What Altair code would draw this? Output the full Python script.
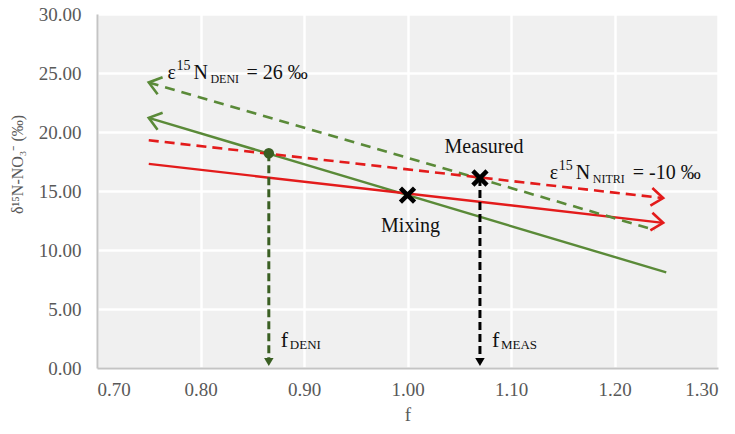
import math
import altair as alt
import pandas as pd

# ---------------- data ----------------
# solid lines through the "Mixing" point
deni_mix_f = [0.75, 1.25]
deni_mix_d15 = [21.2, 8.1]
nitri_mix_f = [0.75, 1.247]
nitri_mix_d15 = [17.3, 12.3]
# dashed lines through the "Measured" point
deni_meas_f = [0.75, 1.239]
deni_meas_d15 = [24.2, 11.7]
nitri_meas_f = [0.75, 1.247]
nitri_meas_d15 = [19.3, 14.4]
# special points
mixing_f = [1.0]
mixing_d15 = [14.65]
measured_f = [1.07]
measured_d15 = [16.1]
fdeni_f = [0.866]
fdeni_d15 = [18.2]
# text
deni_label = ["ε", "15", "N", "DENI", "= 26 ‰"]
deni_label_pos = [0.768, 25.0]
nitri_label = ["ε", "15", "N", "NITRI", "= -10 ‰"]
nitri_label_pos = [1.1375, 16.5]
fdeni_label = ["f", "DENI"]
fmeas_label = ["f", "MEAS"]
x_ticks = [0.7, 0.8, 0.9, 1.0, 1.1, 1.2, 1.3]
y_ticks = [0, 5, 10, 15, 20, 25, 30]

# ---------------- styling ----------------
W, H = 621, 354
KX = W / 0.6
KY = H / 30.0
FONT = "Liberation Serif"
RED = "#e31b1b"
GREEN = "#5a8a38"
DKGREEN = "#3a5f23"
TXT = "#111111"

xs = alt.Scale(domain=[0.7, 1.3], nice=False, zero=False)
ys = alt.Scale(domain=[0, 30], nice=False, zero=True)


def seg_df(f, d):
    return pd.DataFrame({"f": f, "d15": d})


def line(f, d, color, dash=None, width=2.5):
    kw = dict(color=color, strokeWidth=width)
    if dash:
        kw["strokeDash"] = dash
    return alt.Chart(seg_df(f, d)).mark_line(**kw).encode(
        x=alt.X("f:Q", scale=xs), y=alt.Y("d15:Q", scale=ys)
    )


def chevron(f, d, tip_index, color):
    other = 1 - tip_index
    dxp = (f[tip_index] - f[other]) * KX
    dyp = -(d[tip_index] - d[other]) * KY
    ang = math.degrees(math.atan2(dyp, dxp)) % 360
    return alt.Chart(seg_df([f[tip_index]], [d[tip_index]])).mark_point(
        shape="M -1 -0.75 L 0 0 L -1 0.75",
        filled=False, size=560, angle=ang, stroke=color, strokeWidth=2.6,
        opacity=1, strokeJoin="miter", strokeCap="butt",
    ).encode(x=alt.X("f:Q", scale=xs), y=alt.Y("d15:Q", scale=ys))


def vert_arrow(f, d, color):
    df = pd.DataFrame({"f": f, "d15": d, "zero": [0] * len(f)})
    rule = alt.Chart(df).mark_rule(
        color=color, strokeWidth=3, strokeDash=[8, 4], y2Offset=-8
    ).encode(x=alt.X("f:Q", scale=xs), y=alt.Y("d15:Q", scale=ys), y2="zero:Q")
    head = alt.Chart(df).mark_point(
        shape="triangle-down", filled=True, size=90, color=color, opacity=1,
        yOffset=-6,
    ).encode(x=alt.X("f:Q", scale=xs), y=alt.Y("zero:Q", scale=ys))
    return rule + head


def texts(parts, pos, dxs, dys, sizes, align="left"):
    layers = []
    for t, dx, dy, s in zip(parts, dxs, dys, sizes):
        layers.append(
            alt.Chart(seg_df([pos[0]], [pos[1]]).assign(t=t)).mark_text(
                align=align, baseline="middle", dx=dx, dy=dy, fontSize=s,
                font=FONT, color=TXT,
            ).encode(x=alt.X("f:Q", scale=xs), y=alt.Y("d15:Q", scale=ys), text="t:N")
        )
    return layers


axis_common = dict(
    grid=True, format=".2f", ticks=False,
    labelFont=FONT, labelFontSize=19, labelColor="#595959",
    titleFont=FONT, titleColor="#595959", titleFontWeight="normal",
    gridColor="#ffffff", gridWidth=2.5, gridOpacity=1,
    domainColor="#c4c4c4", domainWidth=2,
)

base = alt.Chart(seg_df([0.7], [0])).mark_point(opacity=0).encode(
    x=alt.X(
        "f:Q", scale=xs, title="f",
        axis=alt.Axis(values=x_ticks, labelPadding=12, titleFontSize=19,
                      titleY=46, titleBaseline="middle", **axis_common),
    ),
    y=alt.Y(
        "d15:Q", scale=ys, title="δ¹⁵N-NO₃⁻ (‰)",
        axis=alt.Axis(values=y_ticks, labelPadding=16, titleFontSize=16,
                      titleX=-80, titleY=150, titleBaseline="middle",
                      titleAlign="center", **axis_common),
    ),
)

layers = [base]
layers.append(line(deni_mix_f, deni_mix_d15, GREEN, width=2.4))
layers.append(chevron(deni_mix_f, deni_mix_d15, 0, GREEN))
layers.append(line(nitri_mix_f, nitri_mix_d15, RED, width=2.4))
layers.append(chevron(nitri_mix_f, nitri_mix_d15, 1, RED))
layers.append(line(deni_meas_f, deni_meas_d15, GREEN, dash=[10, 7], width=2.6))
layers.append(chevron(deni_meas_f, deni_meas_d15, 0, GREEN))
layers.append(line(nitri_meas_f, nitri_meas_d15, RED, dash=[10, 6], width=2.6))
layers.append(chevron(nitri_meas_f, nitri_meas_d15, 1, RED))
layers.append(vert_arrow(fdeni_f, fdeni_d15, DKGREEN))
layers.append(vert_arrow(measured_f, measured_d15, "#000000"))

# green dot
layers.append(
    alt.Chart(seg_df(fdeni_f, fdeni_d15)).mark_point(
        shape="circle", filled=True, size=110, color=DKGREEN, opacity=1
    ).encode(x=alt.X("f:Q", scale=xs), y=alt.Y("d15:Q", scale=ys))
)
# X markers
for f, d in [(mixing_f, mixing_d15), (measured_f, measured_d15)]:
    layers.append(
        alt.Chart(seg_df(f, d)).mark_point(
            shape="M -1 -1 L 1 1 M -1 1 L 1 -1", filled=False, size=200,
            stroke="#000000", strokeWidth=4.5, opacity=1,
        ).encode(x=alt.X("f:Q", scale=xs), y=alt.Y("d15:Q", scale=ys))
    )

# point labels
layers += texts(["Mixing"], [mixing_f[0], mixing_d15[0]], [3], [31], [20], align="center")
layers += texts(["Measured"], [measured_f[0], measured_d15[0]], [4], [-31], [20], align="center")

# epsilon labels
layers += texts(deni_label, deni_label_pos, [0, 9, 26, 43, 79], [0, -7, 0, 6, 0], [20, 14, 20, 12, 20])
layers += texts(nitri_label, nitri_label_pos, [0, 9, 26, 43, 83], [0, -7, 0, 6, 0], [20, 14, 20, 12, 20])

# f labels
layers += texts(fdeni_label, [fdeni_f[0], 2.35], [12, 21], [0, 5], [22, 13])
layers += texts(fmeas_label, [measured_f[0], 2.35], [12, 21], [0, 5], [22, 13])

chart = alt.layer(*layers).properties(
    width=W, height=H,
    autosize=alt.AutoSizeParams(type="none"),
    padding={"left": 97, "top": 14, "right": 17, "bottom": 66},
).configure_view(
    fill="#f0f0f0", strokeWidth=0
)

chart.save("out.html", embed_options={"renderer": "svg", "actions": False})
